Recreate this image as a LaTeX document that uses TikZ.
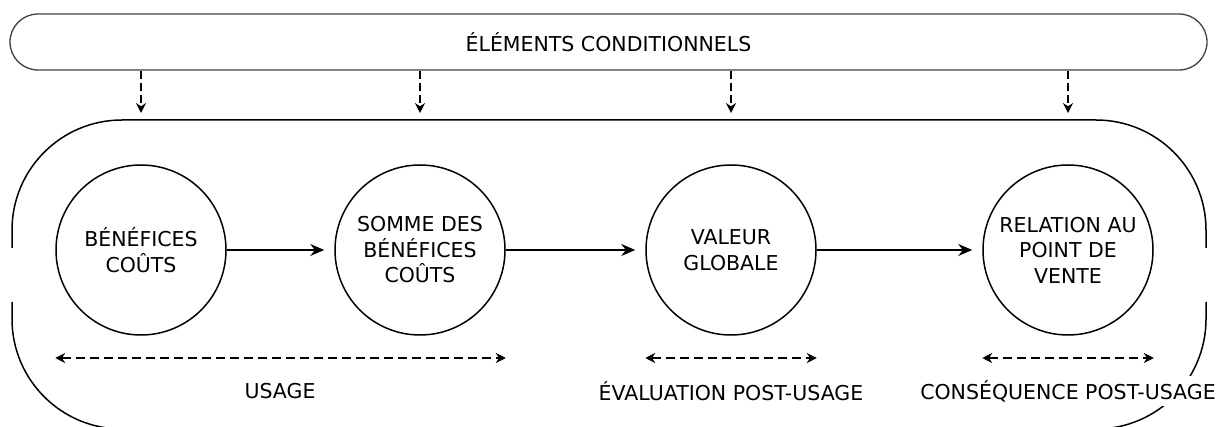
\documentclass[tikz,border=0pt]{standalone}
\usepackage{fontspec}
\setmainfont{DejaVu Sans}
\usetikzlibrary{arrows.meta, positioning}

\begin{document}
\begin{tikzpicture}[x=1pt,y=-1pt,
    txt/.style={font=\fontsize{20.5}{25.5}\selectfont, align=center},
    etape/.style={circle, draw, line width=1.5pt, minimum size=170pt, inner sep=0pt, txt},
    flux/.style={-{Stealth[length=14pt,width=12pt]}, line width=1.5pt, shorten >=10pt},
    cond/.style={-{Stealth[length=10pt,width=10pt]}, line width=1.3pt, dash pattern=on 8pt off 4pt},
    span/.style={{Stealth[length=10pt,width=10pt]}-{Stealth[length=10pt,width=10pt]}, line width=1.3pt, dash pattern=on 9pt off 5pt},
    etiquette/.style={txt, fill=white, inner sep=4pt}]
\useasboundingbox (0,0) rectangle (1224,427);

% Conditions
\node[draw=black!75, line width=1.3pt, rounded corners=28pt, minimum width=1197pt, minimum height=56pt, txt] (bar) at (608.5,42) {ÉLÉMENTS CONDITIONNELS};

% Cadre
\draw[line width=1.5pt] (12,248) -- (12,230) arc[start angle=180, end angle=270, radius=110]
    -- (1096,120) arc[start angle=270, end angle=360, radius=110] -- (1206,248);
\draw[line width=1.5pt] (12,302) -- (12,319) arc[start angle=180, end angle=90, radius=110]
    -- (1096,429) arc[start angle=90, end angle=0, radius=110] -- (1206,302);
\coordinate (haut) at (608,120);

% Etapes
\node[etape] (c1) at (141,250) {BÉNÉFICES\\COÛTS};
\node[etape] (c2) at (420,250) {SOMME DES\\BÉNÉFICES\\COÛTS};
\node[etape] (c3) at (731,250) {VALEUR\\GLOBALE};
\node[etape] (c4) at (1068,250) {RELATION AU\\POINT DE\\VENTE};

\draw[flux] (c1.east) -- (c2.west);
\draw[flux] (c2.east) -- (c3.west);
\draw[flux] (c3.east) -- (c4.west);

\foreach \n in {c1,c2,c3,c4} {
    \draw[cond] (bar.south -| \n) -- ([yshift=7pt]haut -| \n);
}

% Phases
\draw[span] ([yshift=-108pt]c1.west) -- ([yshift=-108pt]c2.east);
\draw[span] ([yshift=-108pt]c3.west) -- ([yshift=-108pt]c3.east);
\draw[span] ([yshift=-108pt]c4.west) -- ([yshift=-108pt]c4.east);

\node[etiquette] (usage) at (280,391) {USAGE};
\node[etiquette] (eval) at (731,391) {ÉVALUATION POST-USAGE};
\node[etiquette] (cons) at (1068,391) {CONSÉQUENCE POST-USAGE};
\end{tikzpicture}
\end{document}
